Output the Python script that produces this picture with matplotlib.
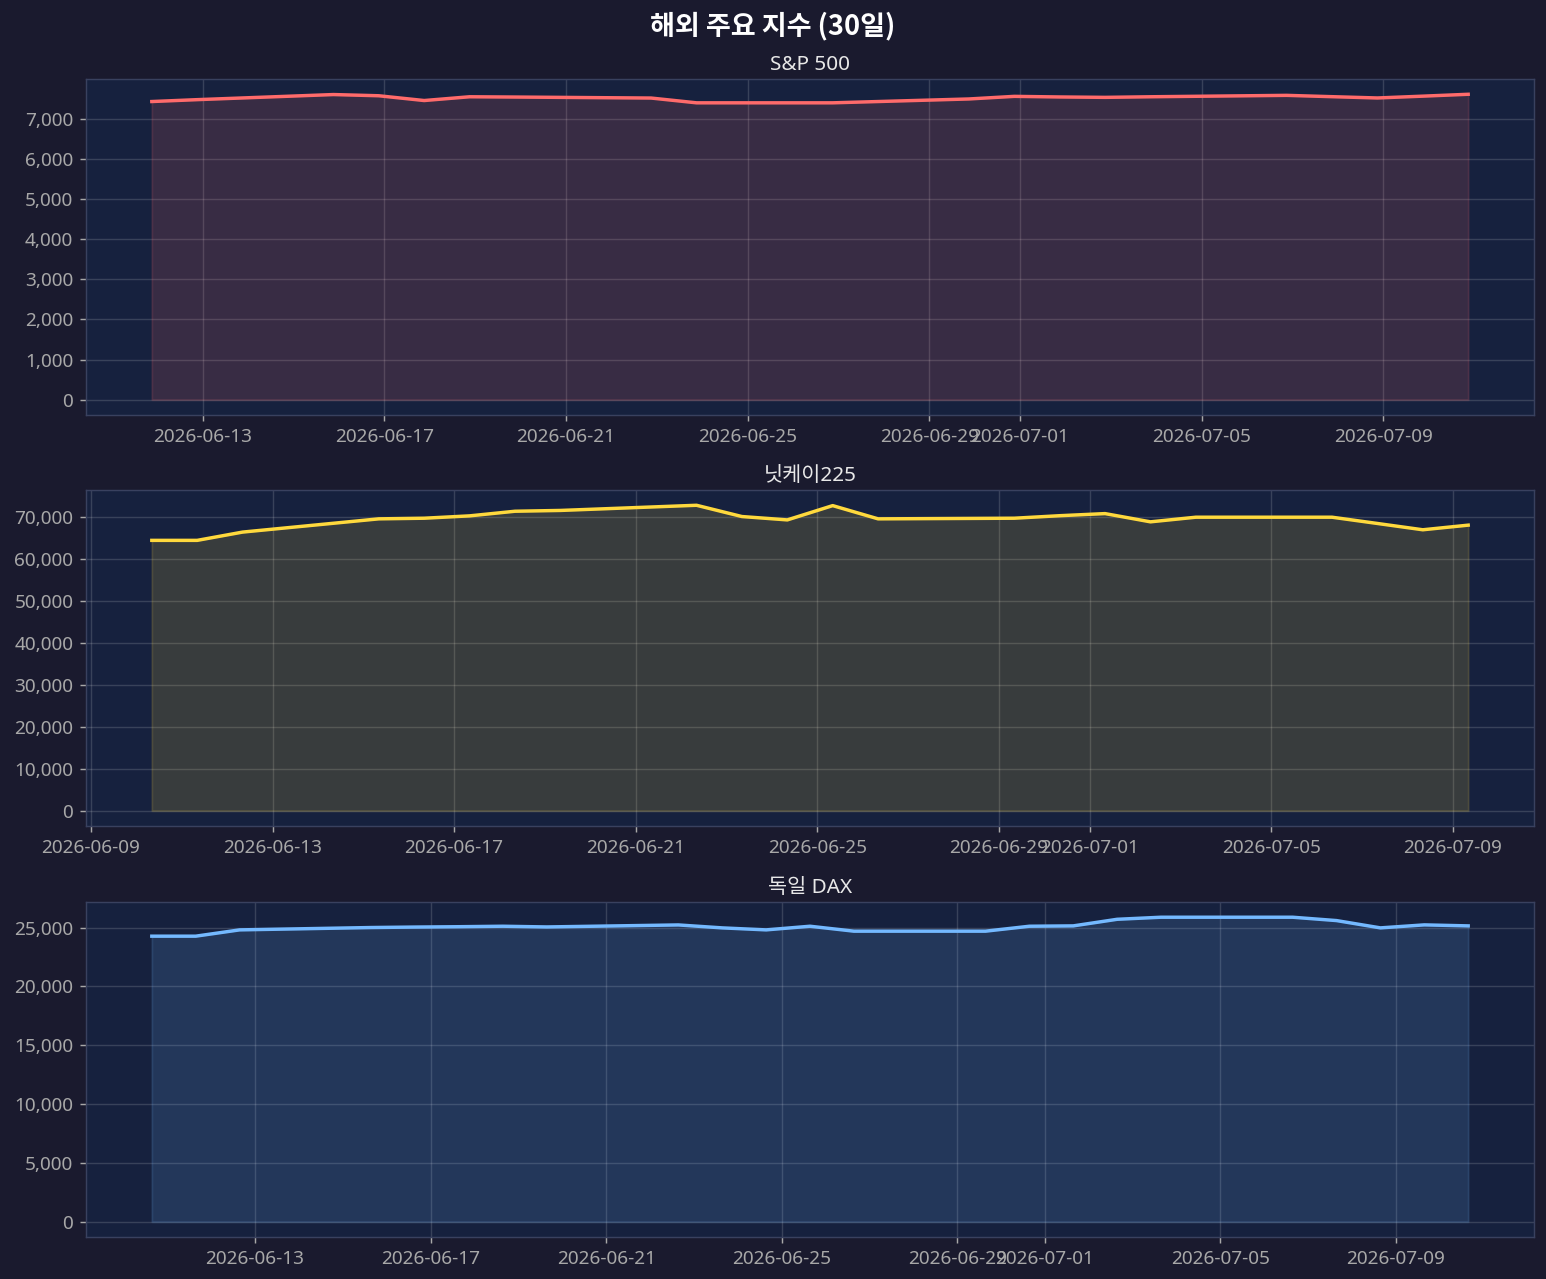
import matplotlib
matplotlib.use("Agg")
import matplotlib.pyplot as plt
import matplotlib.dates as mdates
from matplotlib.ticker import FuncFormatter, MultipleLocator
import pandas as pd

plt.rcParams['font.family'] = ['Noto Sans', 'Noto Sans CJK KR', 'DejaVu Sans']

# ---- data ----
sp_days = ["2026-06-11", "2026-06-12", "2026-06-15", "2026-06-16", "2026-06-17", "2026-06-18",
           "2026-06-19", "2026-06-22", "2026-06-23", "2026-06-24", "2026-06-25", "2026-06-26",
           "2026-06-29", "2026-06-30", "2026-07-01", "2026-07-02", "2026-07-03", "2026-07-06",
           "2026-07-07", "2026-07-08", "2026-07-09", "2026-07-10"]
sp_time = "21:00"
sp_vals = [7431, 7478, 7605, 7575, 7456, 7550, 7543, 7518, 7399, 7399, 7399, 7399,
           7495, 7560, 7545, 7535, 7550, 7585, 7552, 7520, 7565, 7612]

nk_days = ["2026-06-10", "2026-06-11", "2026-06-12", "2026-06-15", "2026-06-16", "2026-06-17",
           "2026-06-18", "2026-06-19", "2026-06-22", "2026-06-23", "2026-06-24", "2026-06-25",
           "2026-06-26", "2026-06-29", "2026-06-30", "2026-07-01", "2026-07-02", "2026-07-03",
           "2026-07-06", "2026-07-07", "2026-07-08", "2026-07-09"]
nk_time = "08:10"
nk_vals = [64330, 64330, 66300, 69450, 69600, 70160, 71260, 71450, 72680, 70000, 69200, 72600,
           69450, 69600, 70200, 70700, 68740, 69840, 69840, 68350, 66850, 67950]

dax_days = ["2026-06-10", "2026-06-11", "2026-06-12", "2026-06-15", "2026-06-16", "2026-06-17",
            "2026-06-18", "2026-06-19", "2026-06-22", "2026-06-23", "2026-06-24", "2026-06-25",
            "2026-06-26", "2026-06-29", "2026-06-30", "2026-07-01", "2026-07-02", "2026-07-03",
            "2026-07-06", "2026-07-07", "2026-07-08", "2026-07-09", "2026-07-10"]
dax_time = "15:30"
dax_vals = [24265, 24265, 24800, 25000, 25040, 25070, 25110, 25050, 25220, 24970, 24800, 25110,
            24690, 24690, 25110, 25140, 25700, 25875, 25875, 25590, 24970, 25225, 25140]

titles = ["S&P 500", "닛케이225", "독일 DAX"]
colors = ["#ff6b6b", "#ffd93d", "#74b9ff"]
y_steps = [1000, 10000, 5000]
suptitle = "해외 주요 지수 (30일)"

series = [
    (sp_days, sp_time, sp_vals),
    (nk_days, nk_time, nk_vals),
    (dax_days, dax_time, dax_vals),
]

# ---- style ----
fig_bg = "#1a1a2e"
ax_bg = "#16213e"
tick_col = "#a8a8a8"

W, H, DPI = 1546, 1279, 130
fig = plt.figure(figsize=(W / DPI, H / DPI), dpi=DPI, facecolor=fig_bg)

left, right = 86 / W, 1534 / W
tops = [79, 490, 902]
bottoms = [415, 826, 1237]

for i, (days, tm, vals) in enumerate(series):
    t, b = tops[i], bottoms[i]
    ax = fig.add_axes([left, 1 - b / H, right - left, (b - t) / H])
    ax.set_facecolor(ax_bg)
    x = pd.to_datetime([d + " " + tm for d in days])
    ax.plot(x, vals, color=colors[i], linewidth=1.9, zorder=3)
    ax.fill_between(x, vals, 0, color=colors[i], alpha=0.15, zorder=2)
    ax.set_title(titles[i], color="#e8e8e8", fontsize=11.5, pad=5)
    ax.grid(True, color="white", alpha=0.15, linewidth=0.8)
    ax.set_axisbelow(True)
    ax.tick_params(colors=tick_col, labelsize=10.5, length=3.5, width=0.8)
    for sp in ax.spines.values():
        sp.set_color("#39415f")
        sp.set_linewidth(0.8)
    ax.yaxis.set_major_locator(MultipleLocator(y_steps[i]))
    ax.yaxis.set_major_formatter(FuncFormatter(lambda v, p: f"{v:,.0f}"))
    loc = mdates.AutoDateLocator()
    ax.xaxis.set_major_locator(loc)
    ax.xaxis.set_major_formatter(mdates.DateFormatter("%Y-%m-%d"))

fig.suptitle(suptitle, color="white", fontsize=15, fontweight="bold", y=0.991,
             family=['Noto Sans CJK KR', 'DejaVu Sans'])

fig.savefig("out.png", dpi=DPI, facecolor=fig_bg)
